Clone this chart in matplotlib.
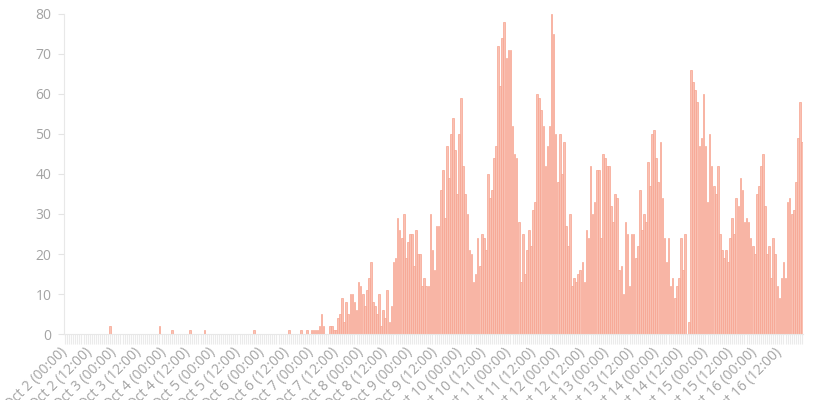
import matplotlib
matplotlib.use("Agg")
import matplotlib.pyplot as plt
import numpy as np

# Hourly counts, one list per day (00:00 .. 23:00)
oct02 = [0]*22 + [2, 0]
oct03 = [0]*22 + [2, 0]
oct04 = [0, 0, 0, 0, 1, 0, 0, 0, 0, 0, 0, 0, 0, 1, 0, 0, 0, 0, 0, 0, 1, 0, 0, 0]
oct05 = [0]*20 + [1, 0, 0, 0]
oct06 = [0]*13 + [1, 0, 0, 0, 0, 0, 1, 0, 0, 1, 0]
oct07 = [1, 1, 1, 1, 2, 5, 2, 0, 0, 2, 2, 1, 1, 4, 5, 9, 3, 8, 5, 10, 10, 8, 6, 13]
oct08 = [12, 10, 7, 11, 14, 18, 8, 7, 5, 10, 2, 6, 4, 11, 3, 7, 18, 19, 29, 26, 24, 30, 19, 23]
oct09 = [25, 25, 17, 26, 20, 20, 12, 14, 12, 12, 30, 21, 16, 27, 27, 36, 41, 29, 47, 39, 50, 54, 46, 35]
oct10 = [50, 59, 42, 35, 30, 21, 20, 13, 15, 24, 17, 25, 24, 21, 40, 34, 36, 44, 47, 72, 62, 74, 78, 69]
oct11 = [71, 71, 52, 45, 44, 28, 13, 25, 15, 21, 26, 22, 31, 33, 60, 59, 56, 52, 42, 47, 52, 80, 75, 50]
oct12 = [38, 50, 40, 48, 27, 22, 30, 12, 14, 13, 15, 16, 18, 13, 26, 24, 42, 30, 33, 41, 41, 24, 45, 44]
oct13 = [42, 42, 32, 28, 35, 34, 16, 17, 10, 28, 25, 12, 25, 25, 19, 22, 36, 26, 30, 28, 43, 37, 50, 51]
oct14 = [44, 38, 48, 34, 24, 18, 24, 12, 14, 9, 12, 14, 24, 16, 25, 0, 3, 66, 63, 61, 58, 47, 49, 60]
oct15 = [47, 33, 50, 42, 37, 35, 42, 25, 21, 19, 21, 18, 24, 29, 25, 34, 32, 39, 36, 28, 29, 28, 24, 22]
oct16 = [20, 35, 37, 42, 45, 32, 20, 22, 14, 24, 20, 12, 9, 14, 18, 14, 33, 34, 30, 31, 38, 49, 58, 48]

days = [oct02, oct03, oct04, oct05, oct06, oct07, oct08, oct09, oct10,
        oct11, oct12, oct13, oct14, oct15, oct16]
day_names = ["Oct %d" % d for d in range(2, 17)]

counts = [v for day in days for v in day]
x = np.arange(len(counts))

tick_labels = []
for name in day_names:
    tick_labels.append(f"{name} (00:00)")
    tick_labels.append(f"{name} (12:00)")

plt.rcParams['font.family'] = ['Open Sans', 'DejaVu Sans']

fig = plt.figure(figsize=(8.4, 4.0), dpi=100)
ax = fig.add_axes([64/840, 1-334/400, (803-64)/840, (334-14)/400])

ax.bar(x, counts, width=0.8, color='#f9c1b3', edgecolor='#f7a490', linewidth=0.5)

ax.set_xlim(-0.5, len(counts)-0.5)
ax.set_ylim(0, 80)
ax.set_yticks(range(0, 81, 10))

ax.set_xticks(x, minor=True)
ax.set_xticks(x[::12])
ax.set_xticklabels(tick_labels[:len(x[::12])], rotation=45, ha='right', va='center',
                   rotation_mode='anchor', color='#a3a3a3', fontsize=10)
ax.tick_params(axis='x', which='both', length=7, width=0.8, color='#ebebeb',
               direction='out', pad=4.5)
ax.tick_params(axis='y', length=4, width=0.8, color='#e4e4e4',
               labelcolor='#a3a3a3', labelsize=10, pad=5)

for s in ['top', 'right']:
    ax.spines[s].set_visible(False)
ax.spines['left'].set_color('#e8e8e8')
ax.spines['bottom'].set_color('#e8e8e8')

fig.savefig('out.png', dpi=100)
